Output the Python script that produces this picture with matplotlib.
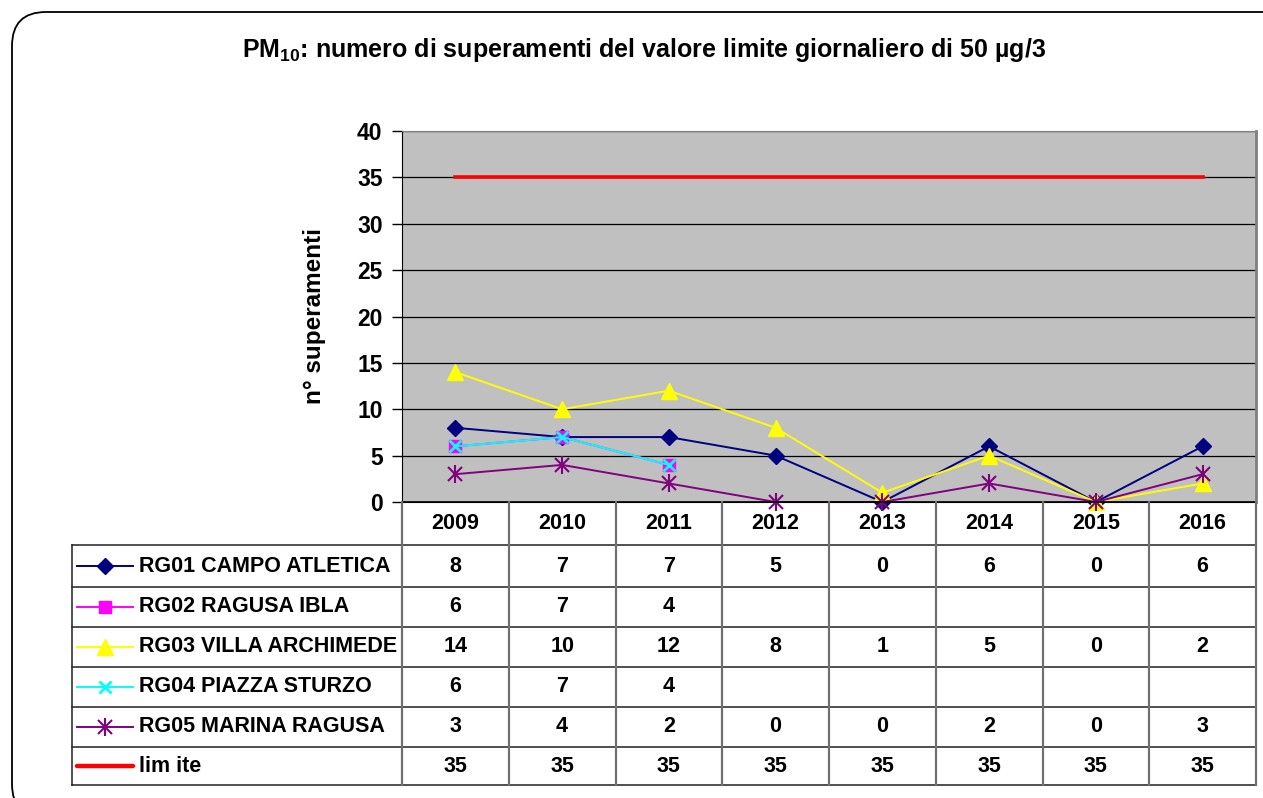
import matplotlib
matplotlib.use("Agg")
import matplotlib.pyplot as plt
from matplotlib.patches import FancyBboxPatch

plt.rcParams["font.family"] = ["Liberation Sans", "DejaVu Sans"]
plt.rcParams["font.weight"] = "bold"
plt.rcParams["mathtext.fontset"] = "custom"
plt.rcParams["mathtext.bf"] = "Liberation Sans:bold"
plt.rcParams["mathtext.rm"] = "Liberation Sans:bold"

anni = ["2009", "2010", "2011", "2012", "2013", "2014", "2015", "2016"]
rg01 = [8, 7, 7, 5, 0, 6, 0, 6]
rg02 = [6, 7, 4, None, None, None, None, None]
rg03 = [14, 10, 12, 8, 1, 5, 0, 2]
rg04 = [6, 7, 4, None, None, None, None, None]
rg05 = [3, 4, 2, 0, 0, 2, 0, 3]
limite = [35, 35, 35, 35, 35, 35, 35, 35]

serie = [
    ("RG01 CAMPO ATLETICA", rg01, "#000080", "D", 8),
    ("RG02 RAGUSA IBLA", rg02, "#FF00FF", "s", 8),
    ("RG03 VILLA ARCHIMEDE", rg03, "#FFFF00", "^", 11),
    ("RG04 PIAZZA STURZO", rg04, "#00FFFF", "x", 9),
    ("RG05 MARINA RAGUSA", rg05, "#800080", "*", 10),
    ("lim ite", limite, "#FF0000", None, 0),
]

W, H = 1263, 798
fig = plt.figure(figsize=(W / 100, H / 100), dpi=100)

# cornice arrotondata
box = FancyBboxPatch((12, -20), 1290, 798 - 12 + 20,
                     boxstyle="round,pad=0,rounding_size=34",
                     transform=None, fill=False, edgecolor="black", lw=1.3)
fig.patches.append(box)

def fx(px):
    return px / W

def fy(py):
    return 1 - py / H

def marcatore(a, x, y, col, mk, ms, **kw):
    # asterisco = croce + barra verticale
    if mk == "*":
        a.plot(x, y, ls="none", marker="x", ms=ms, mec=col, mew=1.5, **kw)
        a.plot(x, y, ls="none", marker="|", ms=ms * 1.35, mec=col, mew=1.5, **kw)
    else:
        a.plot(x, y, ls="none", marker=mk, ms=ms, mfc=col, mec=col,
               mew=2 if mk == "x" else 1, **kw)

# area del grafico
ax_l, ax_r, ax_t, ax_b = 402, 1256, 131, 502
ax = fig.add_axes([fx(ax_l), fy(ax_b), fx(ax_r) - fx(ax_l), fy(ax_t) - fy(ax_b)])
ax.set_facecolor("#C0C0C0")
ax.set_xlim(-0.5, len(anni) - 0.5)
ax.set_ylim(0, 40)
ax.set_yticks(range(0, 41, 5))
ax.yaxis.grid(True, color="black", lw=0.9)
ax.set_axisbelow(True)
ax.set_xticks([])
ax.tick_params(axis="y", length=7, width=1, labelsize=16.5, pad=7)
for t in ax.get_yticklabels():
    t.set_fontweight("bold")
ax.spines["left"].set_color("black")
ax.spines["bottom"].set_color("black")
ax.spines["top"].set_color("#808080")
ax.spines["right"].set_color("#808080")
ax.spines["right"].set_linewidth(2)
ax.set_ylabel("n° superamenti", fontsize=17.5, fontweight="bold", labelpad=22)

xs = list(range(len(anni)))
for nome, vals, col, mk, ms in serie:
    pts = [(x, v) for x, v in zip(xs, vals) if v is not None]
    px = [p[0] for p in pts]
    py = [p[1] for p in pts]
    if nome.startswith("lim"):
        ax.plot(px, py, color=col, lw=2.6, zorder=5)
    else:
        ax.plot(px, py, color=col, lw=1.4, zorder=4)
        marcatore(ax, px, py, col, mk, ms, zorder=4, clip_on=False)

# tabella dati
righe = [502, 545, 587, 627, 667, 707, 747, 785]
tab_l = 72
unit = (ax_r - ax_l) / len(anni)
x0 = -0.5 - (ax_l - tab_l) / unit
tab = fig.add_axes([fx(tab_l), fy(righe[-1]), fx(ax_r) - fx(tab_l), fy(righe[0]) - fy(righe[-1])])
tab.set_xlim(x0, len(anni) - 0.5)
tab.set_ylim(righe[-1], righe[0])
tab.axis("off")

grid_kw = dict(color="#202020", lw=1.1, clip_on=False)
for y in righe[1:]:
    tab.plot([x0, len(anni) - 0.5], [y, y], **grid_kw)
tab.plot([-0.5, len(anni) - 0.5], [righe[0], righe[0]], color="black", lw=1.2, clip_on=False)
tab.plot([x0, x0], [righe[1], righe[-1]], **grid_kw)
for i in range(len(anni) + 1):
    xv = i - 0.5
    tab.plot([xv, xv], [righe[0], righe[-1]], color="#707070", lw=1.6, clip_on=False)

tk = dict(ha="center", va="center", fontsize=15.5, fontweight="bold")
for i, a in enumerate(anni):
    tab.text(i, (righe[0] + righe[1]) / 2, a, **tk)

# chiavi della legenda e valori
kx0 = x0 + (77 - tab_l) / unit
kx1 = x0 + (133 - tab_l) / unit
kxm = (kx0 + kx1) / 2
lab_x = x0 + (139 - tab_l) / unit
for r, (nome, vals, col, mk, ms) in enumerate(serie):
    yc = (righe[r + 1] + righe[r + 2]) / 2
    if nome.startswith("lim"):
        tab.plot([kx0, kx1], [yc, yc], color=col, lw=3.2, solid_capstyle="round", clip_on=False)
    else:
        tab.plot([kx0, kx1], [yc, yc], color=col, lw=1.4, clip_on=False)
        marcatore(tab, [kxm], [yc], col, mk, ms, clip_on=False)
    tab.text(lab_x, yc, nome, ha="left", va="center", fontsize=15.5, fontweight="bold")
    for i, v in enumerate(vals):
        if v is not None:
            tab.text(i, yc, str(v), **tk)

fig.text(fx(644), fy(50), r"PM$_{\mathbf{10}}$: numero di superamenti del valore limite giornaliero di 50 µg/3",
         ha="center", va="center", fontsize=18, fontweight="bold")

fig.savefig("out.png", dpi=100)
